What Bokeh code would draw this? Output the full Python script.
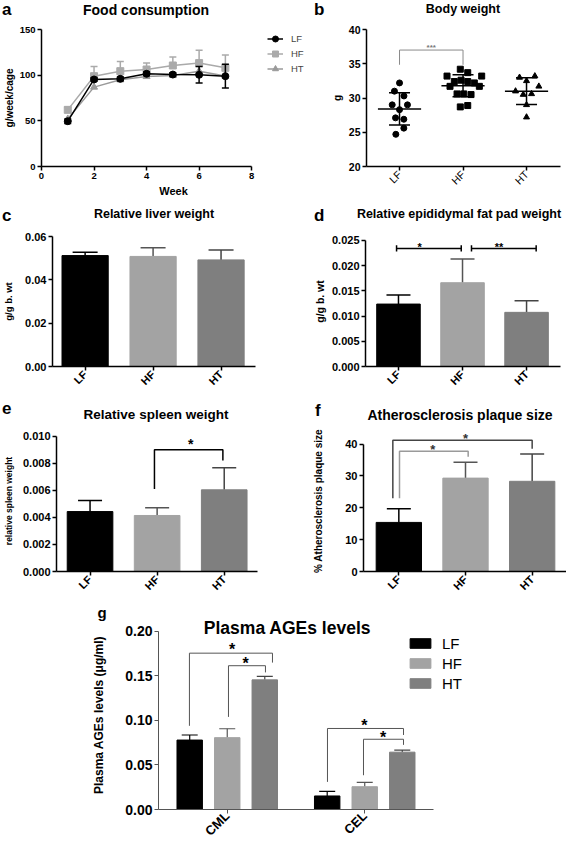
import math
from bokeh.plotting import figure
from bokeh.models import (ColumnDataSource, Whisker, TeeHead, Label, Legend, LegendItem,
                          FixedTicker, Range1d, PrintfTickFormatter, Div, Title)
from bokeh.layouts import column, row
from bokeh.embed import file_html
from bokeh.resources import INLINE
from bokeh.core.properties import value

FONT = "Liberation Sans"

# ---------------- data ----------------
groups = ["LF", "HF", "HT"]
group_pos = [1, 2, 3]
bar_colors = ["#000000", "#a3a3a3", "#7f7f7f"]
err_colors = ["#000000", "#555555", "#444444"]

# (a) Food consumption (g/week/cage)
weeks = [1, 2, 3, 4, 5, 6, 7]
food_lf = [49.6, 95.3, 96.0, 101.5, 100.7, 100.4, 98.9]
food_lf_sd = [2.5, 2.0, 2.0, 2.0, 2.0, 9.0, 13.0]
food_hf = [62.0, 98.9, 104.4, 106.2, 110.6, 113.2, 108.0]
food_hf_sd = [3.0, 10.6, 10.6, 7.0, 9.4, 14.0, 14.0]
food_ht = [52.0, 86.9, 94.9, 98.5, 99.6, 104.4, 99.0]
week_ticks = [0, 2, 4, 6, 8]

# (b) Body weight (g), individual animals + horizontal scatter
bw_lf = [32.2, 31.0, 30.3, 29.0, 29.0, 28.3, 27.1, 26.9, 25.6, 24.7]
bw_lf_dx = [0.0, -0.08, 0.07, -0.115, 0.125, 0.0, -0.063, 0.068, 0.068, -0.058]
bw_hf = [34.2, 33.7, 33.2, 33.2, 32.4, 32.6, 32.4, 32.2, 31.7, 31.7, 30.6, 30.6, 30.5, 28.7, 28.9]
bw_hf_dx = [-0.043, 0.074, -0.252, 0.294, -0.137, -0.031, 0.074, 0.178, -0.205, 0.257,
            -0.094, 0.011, 0.126, -0.043, 0.074]
bw_ht = [33.0, 32.5, 33.2, 31.7, 31.0, 30.5, 30.6, 29.0, 27.2]
bw_ht_dx = [-0.11, 0.0, 0.131, 0.194, -0.173, -0.052, 0.079, 0.0, 0.0]
bw_mean = [28.4, 31.8, 31.0]
bw_sd = [2.35, 1.6, 1.95]
bw_bracket = dict(x0=[1.0], x1=[2.0], top=[37.0], leg0=[34.85], leg1=[34.85])
bw_star = dict(x=[1.5], y=[37.8], text=["***"])

# (c) Relative liver weight
liver = [0.0512, 0.0508, 0.0492]
liver_sd = [0.0015, 0.0040, 0.0046]

# (d) Relative epididymal fat pad weight
fat = [0.01237, 0.0166, 0.01073]
fat_sd = [0.0018, 0.0047, 0.0023]
fat_brackets = dict(x0=[0.97, 2.14], x1=[1.98, 3.15], top=[0.0234, 0.0234])
fat_stars = dict(x=[1.33, 2.57], y=[0.02424, 0.02424], text=["*", "**"])

# (e) Relative spleen weight
spleen = [0.00444, 0.00415, 0.00605]
spleen_sd = [0.00082, 0.00057, 0.00163]
spleen_bracket = dict(x0=[1.96], x1=[2.98], top=[0.00901], leg0=[0.00612], leg1=[0.00822])
spleen_star = dict(x=[2.5], y=[0.00965], text=["*"])

# (f) Atherosclerosis plaque size (%)
plaque = [15.4, 29.3, 28.3]
plaque_sd = [4.3, 5.0, 8.6]
plaque_brackets = dict(x0=[1.01, 0.91], x1=[2.04, 3.0], top=[37.7, 41.2],
                       leg0=[23.0, 23.0], leg1=[36.0, 38.5], color=["#9a9a9a", "#444444"])
plaque_stars = dict(x=[1.51, 2.0], y=[39.2, 42.7], text=["*", "*"])

# (g) Plasma AGEs levels (ug/ml)
age_sets = ["CML", "CEL"]
age_pos = [1, 2]
age_offsets = [-0.273, 0.0, 0.273]
ages_lf = [0.0780, 0.0152]
ages_lf_sd = [0.0057, 0.0052]
ages_hf = [0.0807, 0.0256]
ages_hf_sd = [0.0100, 0.0048]
ages_ht = [0.1456, 0.0644]
ages_ht_sd = [0.0040, 0.0023]
age_brackets = dict(x0=[0.725, 1.009, 1.729, 1.991], x1=[1.329, 1.278, 2.282, 2.282],
                    top=[0.1756, 0.1615, 0.091, 0.0789], leg0=[0.094, 0.104, 0.031, 0.0385],
                    leg1=[0.165, 0.154, 0.0837, 0.0726])
age_stars = dict(x=[1.036, 1.133, 1.998, 2.134], y=[0.183, 0.167, 0.098, 0.0837],
                 text=["*", "*", "*", "*"])

# panel titles
titles = {"a": "Food consumption", "b": "Body weight", "c": "Relative liver weight",
          "d": "Relative epididymal fat pad weight", "e": "Relative spleen weight",
          "f": "Atherosclerosis plaque size", "g": "Plasma AGEs levels"}


# ---------------- helpers ----------------
def base_fig(w, h, left, right, top, bottom, xr, yr):
    p = figure(width=w, height=h, x_range=Range1d(*xr), y_range=Range1d(*yr),
               min_border_left=left, min_border_right=right,
               min_border_top=top, min_border_bottom=bottom,
               toolbar_location=None, output_backend="svg", title=None)
    p.xgrid.visible = False
    p.ygrid.visible = False
    p.outline_line_color = None
    for ax in (p.xaxis[0], p.yaxis[0]):
        ax.axis_line_width = 1.5
        ax.axis_line_color = "black"
        ax.major_tick_line_width = 1.5
        ax.major_tick_line_color = "black"
        ax.major_tick_out = 4
        ax.major_tick_in = 0
        ax.minor_tick_line_color = None
        ax.major_label_text_font = FONT
        ax.major_label_text_font_style = "bold"
        ax.major_label_text_color = "black"
        ax.major_label_standoff = 2
        ax.axis_label_text_font = FONT
        ax.axis_label_text_font_style = "bold"
        ax.axis_label_text_color = "black"
        ax.axis_label_standoff = 3
    return p


def header(height, items):
    spans = []
    for text, x, y, size, centered in items:
        tr = "transform:translateX(-50%);" if centered else ""
        spans.append(
            f'<span style="position:absolute;left:{x}px;top:{y}px;font-family:\'{FONT}\';'
            f'font-size:{size}px;font-weight:bold;line-height:1;white-space:nowrap;'
            f'color:#000;{tr}">{text}</span>')
    html = (f'<div style="position:relative;width:566px;height:{height}px;margin:0;padding:0;">'
            + "".join(spans) + "</div>")
    return Div(text=html, width=566, height=height, margin=0)


def cat_xaxis(p, size="11px"):
    p.xaxis.ticker = FixedTicker(ticks=group_pos)
    p.xaxis.major_label_overrides = {pos: g for pos, g in zip(group_pos, groups)}
    p.xaxis.major_label_orientation = math.pi / 4
    p.xaxis.major_label_text_font_size = size


def bars_with_err(p, means, sds, width=0.68, cap=24):
    src = ColumnDataSource(dict(x=group_pos, top=means, color=bar_colors))
    p.vbar(x="x", top="top", bottom=0, width=width, fill_color="color", line_color="color", source=src)
    for i in range(len(groups)):
        s = ColumnDataSource(dict(x=[group_pos[i]], lo=[means[i]], up=[means[i] + sds[i]]))
        p.add_layout(Whisker(source=s, base="x", lower="lo", upper="up", dimension="height",
                             line_color=err_colors[i], line_width=1.5, lower_head=None,
                             upper_head=TeeHead(size=cap, line_color=err_colors[i], line_width=1.5)))


def stars(p, d, size, color="black"):
    p.text(x="x", y="y", text="text", source=ColumnDataSource(d), text_font=value(FONT),
           text_font_style="bold", text_font_size=size, text_align="center",
           text_baseline="middle", text_color=color, y_offset=3)


def leg_brackets(p, d, color="black", width=1.5):
    xs = [[a, a, b, b] for a, b in zip(d["x0"], d["x1"])]
    ys = [[l0, t, t, l1] for t, l0, l1 in zip(d["top"], d["leg0"], d["leg1"])]
    cols = d.get("color", [color] * len(xs))
    p.multi_line(xs=xs, ys=ys, line_color=cols, line_width=width)


# ---------------- (a) ----------------
pa = base_fig(310, 189, 40, 5, 11, 41, (0, 10.05), (0, 150))
pa.xaxis.bounds = (0, 8)
pa.xaxis.ticker = FixedTicker(ticks=week_ticks)
pa.yaxis.ticker = FixedTicker(ticks=[0, 50, 100, 150])
pa.xaxis.major_label_text_font_size = "9.5px"
pa.yaxis.major_label_text_font_size = "9.5px"
pa.xaxis.axis_label = "Week"
pa.xaxis.axis_label_text_font_size = "11px"
pa.yaxis.axis_label = "g/week/cage"
pa.yaxis.axis_label_text_font_size = "10px"
pa.yaxis.axis_label_standoff = 2

l_ht = pa.line(weeks, food_ht, line_color="#9a9a9a", line_width=1.5)
s_ht = pa.scatter(weeks, food_ht, marker="triangle", size=7, color="#9a9a9a")
src_hf = ColumnDataSource(dict(x=weeks, lo=food_hf, up=[m + s for m, s in zip(food_hf, food_hf_sd)]))
pa.add_layout(Whisker(source=src_hf, base="x", lower="lo", upper="up", line_color="#aaaaaa",
                      line_width=1.5, lower_head=None,
                      upper_head=TeeHead(size=7, line_color="#aaaaaa", line_width=1.5)))
l_hf = pa.line(weeks, food_hf, line_color="#aaaaaa", line_width=1.5)
s_hf = pa.scatter(weeks, food_hf, marker="square", size=7, color="#aaaaaa")
src_lf = ColumnDataSource(dict(x=weeks, lo=[m - s for m, s in zip(food_lf, food_lf_sd)],
                               up=[m + s for m, s in zip(food_lf, food_lf_sd)]))
pa.add_layout(Whisker(source=src_lf, base="x", lower="lo", upper="up", line_color="black",
                      line_width=1.5, level="overlay",
                      lower_head=TeeHead(size=7, line_color="black", line_width=1.5),
                      upper_head=TeeHead(size=7, line_color="black", line_width=1.5)))
l_lf = pa.line(weeks, food_lf, line_color="black", line_width=1.5)
s_lf = pa.scatter(weeks, food_lf, marker="circle", size=7, color="black")
leg_a = Legend(items=[LegendItem(label="LF", renderers=[l_lf, s_lf]),
                      LegendItem(label="HF", renderers=[l_hf, s_hf]),
                      LegendItem(label="HT", renderers=[l_ht, s_ht])],
               location=(226, 90), orientation="vertical", glyph_width=16, glyph_height=15,
               label_height=15, label_standoff=8, spacing=0, padding=0, margin=0,
               border_line_color=None, background_fill_alpha=0,
               label_text_font=FONT, label_text_font_size="9.5px", label_text_color="#444444")
pa.add_layout(leg_a)

# ---------------- (b) ----------------
pb = base_fig(256, 189, 56, 6, 11, 41, (0.48, 3.535), (20, 40))
cat_xaxis(pb, "10.5px")
pb.xaxis.major_label_text_font_style = "normal"
pb.yaxis.ticker = FixedTicker(ticks=[20, 25, 30, 35, 40])
pb.yaxis.major_label_text_font_size = "10.5px"
pb.yaxis.axis_label = "g"
pb.yaxis.axis_label_text_font_size = "10px"
for i, (vals, dxs, mk) in enumerate(zip([bw_lf, bw_hf, bw_ht], [bw_lf_dx, bw_hf_dx, bw_ht_dx],
                                       ["circle", "square", "triangle"])):
    pb.scatter([group_pos[i] + d for d in dxs], vals, marker=mk, size=6, color="black")
pb.segment(x0=[p - 0.34 for p in group_pos], x1=[p + 0.34 for p in group_pos],
           y0=bw_mean, y1=bw_mean, line_color="black", line_width=1.5)
src_b = ColumnDataSource(dict(x=group_pos, lo=[m - s for m, s in zip(bw_mean, bw_sd)],
                              up=[m + s for m, s in zip(bw_mean, bw_sd)]))
pb.add_layout(Whisker(source=src_b, base="x", lower="lo", upper="up", line_color="black",
                      line_width=1.5, level="overlay",
                      lower_head=TeeHead(size=21, line_color="black", line_width=1.5),
                      upper_head=TeeHead(size=21, line_color="black", line_width=1.5)))
leg_brackets(pb, bw_bracket, color="#8a8a8a", width=1)
stars(pb, bw_star, "8px", color="#777777")

# ---------------- (c) ----------------
pc = base_fig(310, 177, 52, 55, 10, 37, (0.52, 3.507), (0, 0.06))
cat_xaxis(pc)
pc.yaxis.ticker = FixedTicker(ticks=[0, 0.02, 0.04, 0.06])
pc.yaxis.formatter = PrintfTickFormatter(format="%.2f")
pc.yaxis.major_label_text_font_size = "11px"
pc.yaxis.axis_label = "g/g b. wt"
pc.yaxis.axis_label_text_font_size = "9.5px"
pc.yaxis.axis_label_standoff = 8
bars_with_err(pc, liver, liver_sd, cap=25)

# ---------------- (d) ----------------
pd_ = base_fig(256, 177, 49, 6, 5, 36, (0.485, 3.53), (0, 0.025758))
cat_xaxis(pd_)
pd_.yaxis.bounds = (0, 0.025)
pd_.yaxis.ticker = FixedTicker(ticks=[0, 0.005, 0.01, 0.015, 0.02, 0.025])
pd_.yaxis.formatter = PrintfTickFormatter(format="%.3f")
pd_.yaxis.major_label_text_font_size = "11px"
pd_.yaxis.axis_label = "g/g b. wt"
pd_.yaxis.axis_label_text_font_size = "10.5px"
bars_with_err(pd_, fat, fat_sd, cap=24)
cap_h = 0.0006
fx = [[a, b] for a, b in zip(fat_brackets["x0"], fat_brackets["x1"])]
fy = [[t, t] for t in fat_brackets["top"]]
for a, b, t in zip(fat_brackets["x0"], fat_brackets["x1"], fat_brackets["top"]):
    fx += [[a, a], [b, b]]
    fy += [[t - cap_h, t + cap_h], [t - cap_h, t + cap_h]]
pd_.multi_line(xs=fx, ys=fy, line_color="black", line_width=1.5)
stars(pd_, fat_stars, "11px")

# ---------------- (e) ----------------
pe = base_fig(310, 176, 52, 53, 5, 30, (0.5, 3.496), (0, 0.010444))
cat_xaxis(pe)
pe.yaxis.bounds = (0, 0.010)
pe.yaxis.ticker = FixedTicker(ticks=[0, 0.002, 0.004, 0.006, 0.008, 0.010])
pe.yaxis.formatter = PrintfTickFormatter(format="%.3f")
pe.yaxis.major_label_text_font_size = "11px"
pe.yaxis.axis_label = "relative spleen weight"
pe.yaxis.axis_label_text_font_size = "8.5px"
pe.yaxis.axis_label_standoff = 6
bars_with_err(pe, spleen, spleen_sd, cap=24)
leg_brackets(pe, spleen_bracket, color="black", width=1.5)
stars(pe, spleen_star, "14px")

# ---------------- (f) ----------------
pf = base_fig(256, 176, 49, 0, 0, 30, (0.47, 3.515), (0, 44.24))
cat_xaxis(pf)
pf.yaxis.bounds = (0, 40)
pf.yaxis.ticker = FixedTicker(ticks=[0, 10, 20, 30, 40])
pf.yaxis.major_label_text_font_size = "11px"
pf.yaxis.axis_label = "% Atherosclerosis plaque size"
pf.yaxis.axis_label_text_font_size = "10px"
pf.yaxis.axis_label_standoff = 18
bars_with_err(pf, plaque, plaque_sd, cap=24)
leg_brackets(pf, plaque_brackets, width=1.5)
stars(pf, plaque_stars, "13px", color="#333333")

# ---------------- (g) ----------------
pg = base_fig(566, 246, 158, 86, 18, 38, (0.5, 2.842), (0, 0.21229))
for ax in (pg.xaxis[0], pg.yaxis[0]):
    ax.axis_line_color = "#555555"
    ax.axis_line_width = 1
    ax.major_tick_line_color = "#555555"
    ax.major_tick_line_width = 1
    ax.major_tick_out = 4
    ax.major_label_text_font_size = "14px"
pg.xaxis.major_label_text_font_size = "13px"
pg.xaxis.major_label_standoff = 0
pg.xaxis.bounds = (0.5, 2.5)
pg.yaxis.bounds = (0, 0.2)
pg.xaxis.ticker = FixedTicker(ticks=age_pos)
pg.xaxis.major_label_overrides = {p: s for p, s in zip(age_pos, age_sets)}
pg.xaxis.major_label_orientation = math.pi / 4
pg.yaxis.ticker = FixedTicker(ticks=[0, 0.05, 0.10, 0.15, 0.20])
pg.yaxis.formatter = PrintfTickFormatter(format="%.2f")
pg.yaxis.axis_label = "Plasma AGEs levels (\u03bcg/ml)"
pg.yaxis.axis_label_text_font_size = "12px"
pg.yaxis.axis_label_standoff = 16
g_items = []
for i, (m, s) in enumerate(zip([ages_lf, ages_hf, ages_ht], [ages_lf_sd, ages_hf_sd, ages_ht_sd])):
    xs = [c + age_offsets[i] for c in age_pos]
    r = pg.vbar(x=xs, top=m, bottom=0, width=0.185, fill_color=bar_colors[i], line_color=bar_colors[i])
    g_items.append(LegendItem(label=groups[i], renderers=[r]))
    ws = ColumnDataSource(dict(x=xs, lo=m, up=[a + b for a, b in zip(m, s)]))
    pg.add_layout(Whisker(source=ws, base="x", lower="lo", upper="up", line_color=err_colors[i],
                          line_width=1.2, lower_head=None,
                          upper_head=TeeHead(size=16, line_color=err_colors[i], line_width=1.2)))
leg_brackets(pg, age_brackets, color="#555555", width=1)
stars(pg, age_stars, "16px")
leg_g = Legend(items=g_items, location=(249, 116), orientation="vertical", glyph_width=26,
               glyph_height=12, label_height=20, label_standoff=9, spacing=0, padding=0, margin=0,
               border_line_color=None, background_fill_alpha=0,
               label_text_font=FONT, label_text_font_size="15px", label_text_color="black")
pg.add_layout(leg_g)
pg.add_layout(Label(x=129, y=181.5, x_units="screen", y_units="screen", text=titles["g"],
                    text_font=FONT, text_font_size="17.5px", text_font_style="bold",
                    text_align="center", text_baseline="middle", text_color="black"))
pg.add_layout(Title(text="g", align="left", offset=-61, standoff=0, text_font=FONT,
                    text_font_size="15px", text_font_style="bold", text_color="black"), "above")

# ---------------- header rows (panel letters and titles) ----------------
h1 = header(18, [("a", 2, 0.6, 17, False), (titles["a"], 146, 3.2, 14, True),
                 ("b", 314, 0.6, 17, False), (titles["b"], 463, 3.4, 12.5, True)])
h2 = header(19, [("c", 2, 0, 17, False), (titles["c"], 154, 1.4, 12.5, True),
                 ("d", 314, 0, 17, False), (titles["d"], 459, 1.4, 12.5, True)])
h3 = header(22, [("e", 2, -3.4, 17, False), (titles["e"], 156, 5.25, 13.5, True),
                 ("f", 315, -1.4, 17, False), (titles["f"], 460, 5.2, 14, True)])

layout = column(h1, row(pa, pb), h2, row(pc, pd_), h3, row(pe, pf), pg)
open("out.html", "w").write(file_html(layout, INLINE))
